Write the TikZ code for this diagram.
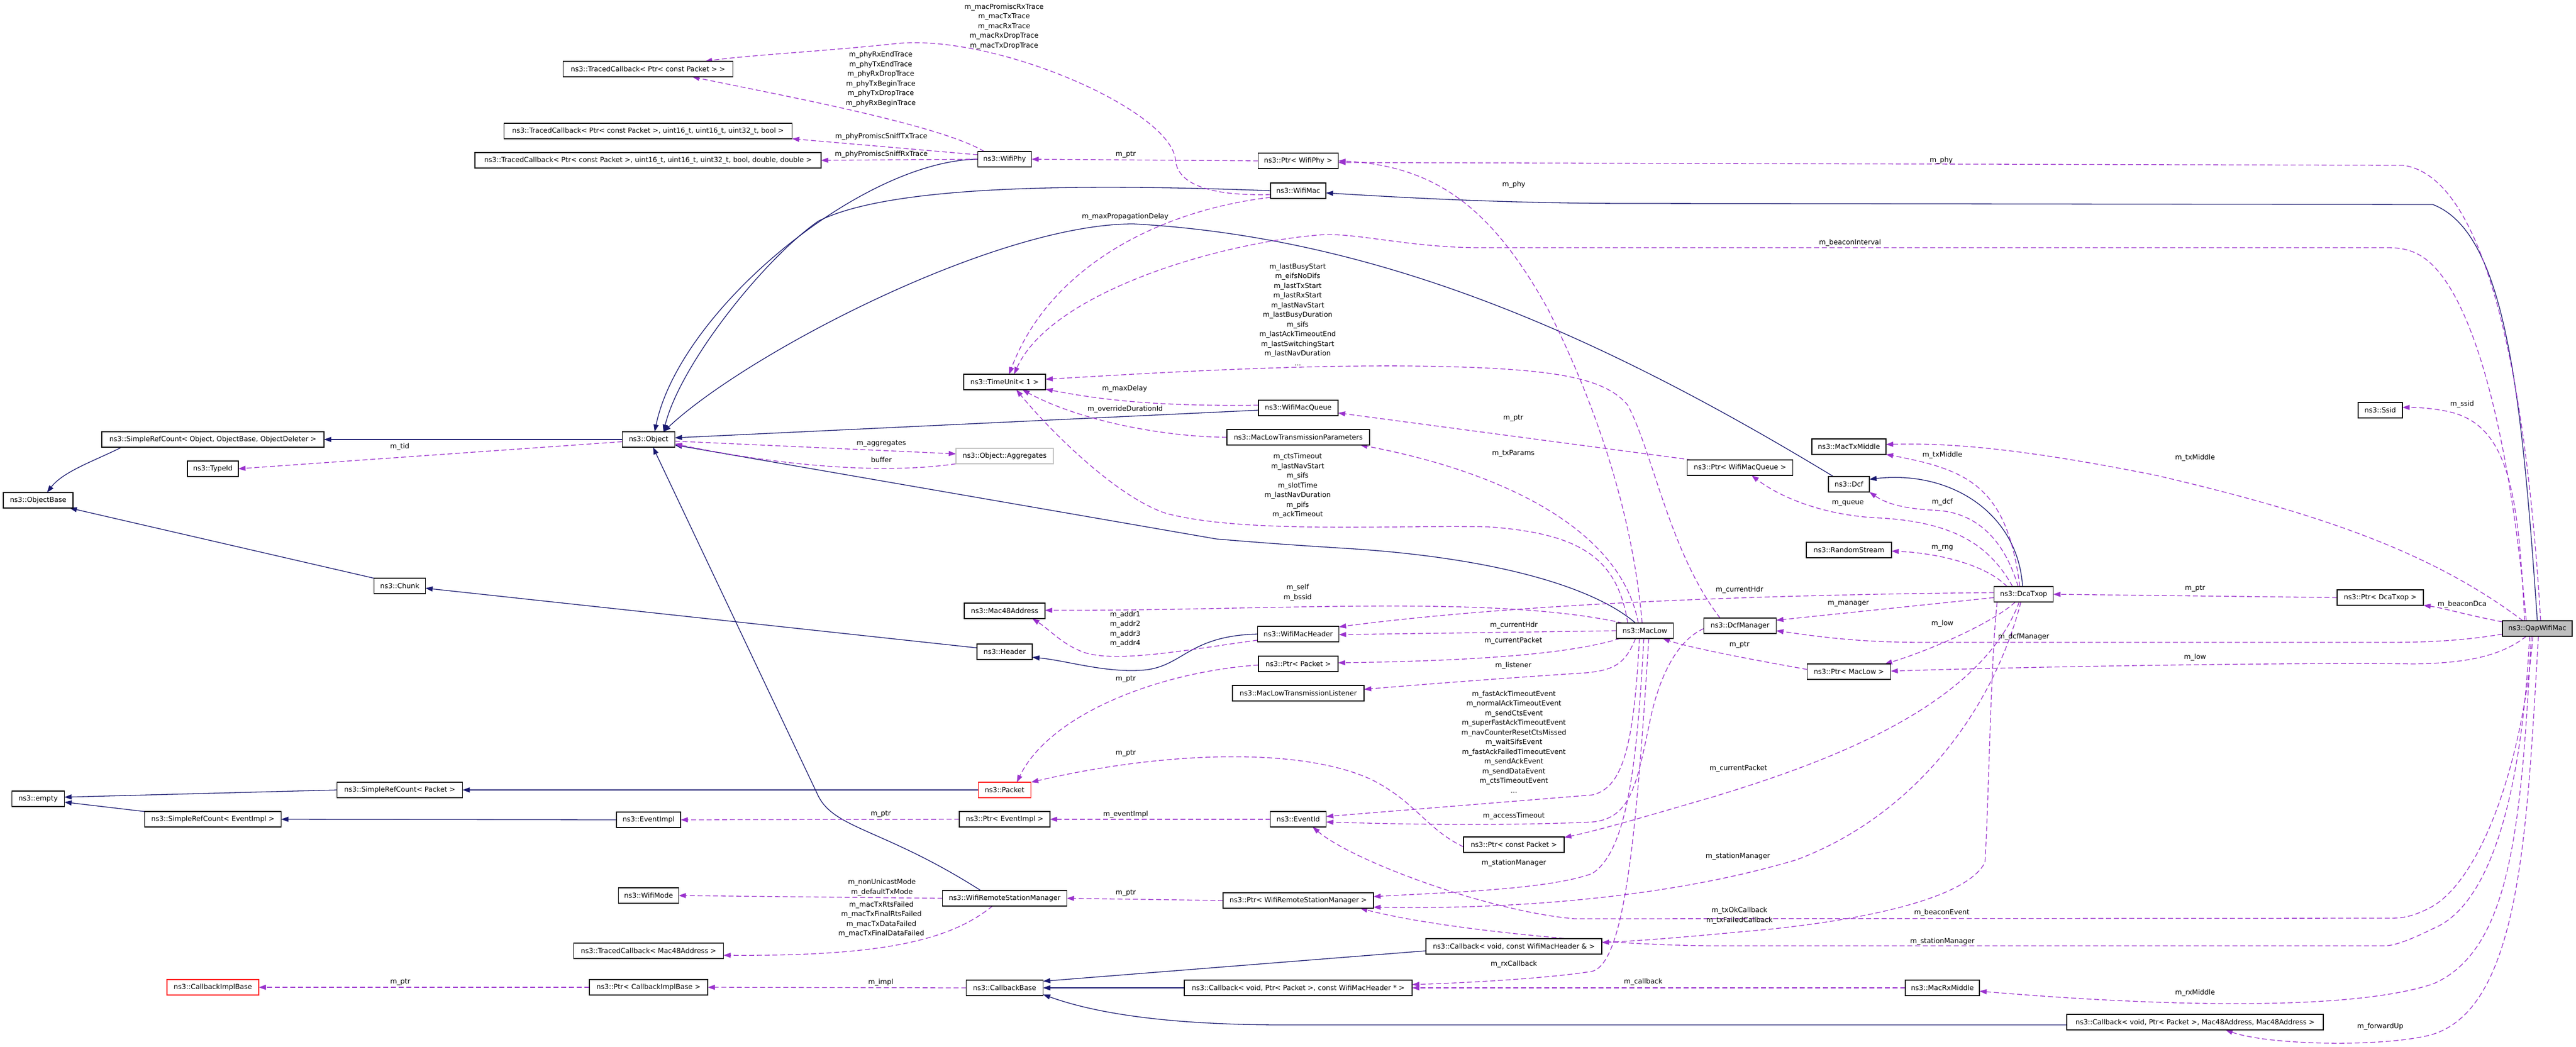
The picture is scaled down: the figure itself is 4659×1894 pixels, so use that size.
\documentclass[tikz,border=0pt]{standalone}
\usepackage{fontspec}
\setmainfont{DejaVu Sans}
\usetikzlibrary{arrows.meta}
\pgfdeclarelayer{bg}
\pgfsetlayers{bg,main}
\definecolor{inhcol}{HTML}{191970}
\definecolor{memcol}{HTML}{9A32CD}
\definecolor{boxgray}{HTML}{BFBFBF}
\tikzset{
    every node/.style={font=\fontsize{12.5}{17.5}\selectfont, inner sep=0pt, outer sep=0pt},
    cls/.style={rectangle, draw=black, line width=1.2pt, minimum height=28pt, fill=white},
    attr/.style={align=center},
    baseedge/.style={draw=inhcol, line width=1.3pt, -{Triangle[length=13pt,width=9pt]}},
    memberedge/.style={draw=memcol, line width=1.3pt, dash pattern=on 9pt off 5pt, -{Triangle[length=13pt,width=9pt]}}
}
\begin{document}
\begin{tikzpicture}[x=1pt, y=-1pt]
    \path[use as bounding box] (0,0) rectangle (4659,1894);

    % classes
    \node (objbase) [cls, minimum width=126pt] at (69, 905) {ns3::ObjectBase};
    \node (empty) [cls, minimum width=95pt] at (69, 1445) {ns3::empty};
    \node (srcobj) [cls, minimum width=402pt] at (385, 795) {ns3::SimpleRefCount< Object, ObjectBase, ObjectDeleter >};
    \node (typeid) [cls, minimum width=92pt] at (385, 848) {ns3::TypeId};
    \node (srcevent) [cls, minimum width=247pt] at (385, 1482) {ns3::SimpleRefCount< EventImpl >};
    \node (cbimplbase) [cls, draw=red, minimum width=166pt] at (385, 1786) {ns3::CallbackImplBase};
    \node (chunk) [cls, minimum width=93pt] at (723, 1060) {ns3::Chunk};
    \node (srcpacket) [cls, minimum width=227pt] at (723, 1429) {ns3::SimpleRefCount< Packet >};
    \node (tcpkt) [cls, minimum width=307pt] at (1172, 125) {ns3::TracedCallback< Ptr< const Packet > >};
    \node (tcsnifftx) [cls, minimum width=521pt] at (1172, 237) {ns3::TracedCallback< Ptr< const Packet >, uint16\_t, uint16\_t, uint32\_t, bool >};
    \node (tcsniffrx) [cls, minimum width=626pt] at (1172, 290) {ns3::TracedCallback< Ptr< const Packet >, uint16\_t, uint16\_t, uint32\_t, bool, double, double >};
    \node (object) [cls, minimum width=95pt] at (1173, 795) {ns3::Object};
    \node (eventimpl) [cls, minimum width=116pt] at (1173, 1483) {ns3::EventImpl};
    \node (wifimode) [cls, minimum width=109pt] at (1173, 1620) {ns3::WifiMode};
    \node (tcmac) [cls, minimum width=271pt] at (1173, 1720) {ns3::TracedCallback< Mac48Address >};
    \node (ptrcbimpl) [cls, minimum width=214pt] at (1173, 1786) {ns3::Ptr< CallbackImplBase >};
    \node (wifiphy) [cls, minimum width=97pt] at (1817, 288) {ns3::WifiPhy};
    \node (timeunit) [cls, minimum width=148pt] at (1817, 691) {ns3::TimeUnit< 1 >};
    \node (aggregates) [cls, draw=boxgray, minimum width=176pt] at (1817, 825) {ns3::Object::Aggregates};
    \node (mac48) [cls, minimum width=146pt] at (1817, 1105) {ns3::Mac48Address};
    \node (header) [cls, minimum width=100pt] at (1817, 1179) {ns3::Header};
    \node (packet) [cls, draw=red, minimum width=95pt] at (1817, 1429) {ns3::Packet};
    \node (ptreventimpl) [cls, minimum width=164pt] at (1817, 1482) {ns3::Ptr< EventImpl >};
    \node (wrsm) [cls, minimum width=225pt] at (1817, 1625) {ns3::WifiRemoteStationManager};
    \node (cbbase) [cls, minimum width=139pt] at (1817, 1787) {ns3::CallbackBase};
    \node (ptrwifiphy) [cls, minimum width=145pt] at (2348, 291) {ns3::Ptr< WifiPhy >};
    \node (wifimac) [cls, minimum width=100pt] at (2348, 345) {ns3::WifiMac};
    \node (wifimacqueue) [cls, minimum width=144pt] at (2348, 738) {ns3::WifiMacQueue};
    \node (mltp) [cls, minimum width=258pt] at (2348, 791) {ns3::MacLowTransmissionParameters};
    \node (wifimacheader) [cls, minimum width=147pt] at (2348, 1147) {ns3::WifiMacHeader};
    \node (ptrpacket) [cls, minimum width=144pt] at (2348, 1201) {ns3::Ptr< Packet >};
    \node (mltl) [cls, minimum width=238pt] at (2348, 1254) {ns3::MacLowTransmissionListener};
    \node (eventid) [cls, minimum width=101pt] at (2348, 1482) {ns3::EventId};
    \node (ptrwrsm) [cls, minimum width=272pt] at (2348, 1629) {ns3::Ptr< WifiRemoteStationManager >};
    \node (cbrx) [cls, minimum width=412pt] at (2348, 1787) {ns3::Callback< void, Ptr< Packet >, const WifiMacHeader * >};
    \node (ptrcpacket) [cls, minimum width=182pt] at (2738, 1528) {ns3::Ptr< const Packet >};
    \node (cbtx) [cls, minimum width=318pt] at (2738, 1712) {ns3::Callback< void, const WifiMacHeader \& >};
    \node (maclow) [cls, minimum width=103pt] at (2975, 1141) {ns3::MacLow};
    \node (ptrqueue) [cls, minimum width=191pt] at (3147, 846) {ns3::Ptr< WifiMacQueue >};
    \node (dcfmanager) [cls, minimum width=131pt] at (3147, 1132) {ns3::DcfManager};
    \node (mactxmiddle) [cls, minimum width=134pt] at (3344, 808) {ns3::MacTxMiddle};
    \node (dcf) [cls, minimum width=74pt] at (3344, 876) {ns3::Dcf};
    \node (randomstream) [cls, minimum width=154pt] at (3344, 995) {ns3::RandomStream};
    \node (ptrmaclow) [cls, minimum width=151pt] at (3344, 1215) {ns3::Ptr< MacLow >};
    \node (macrxmiddle) [cls, minimum width=134pt] at (3513, 1787) {ns3::MacRxMiddle};
    \node (dcatxop) [cls, minimum width=107pt] at (3660, 1075) {ns3::DcaTxop};
    \node (cbfwd) [cls, minimum width=464pt] at (3970, 1849) {ns3::Callback< void, Ptr< Packet >, Mac48Address, Mac48Address >};
    \node (ssid) [cls, minimum width=80pt] at (4305, 742) {ns3::Ssid};
    \node (ptrdcatxop) [cls, minimum width=156pt] at (4305, 1081) {ns3::Ptr< DcaTxop >};
    \node (qap) [cls, fill=boxgray, minimum width=126pt] at (4589, 1137) {ns3::QapWifiMac};

    % member names
    \node (lmacprom) [attr] at (1816, 48) {m\_macPromiscRxTrace\\m\_macTxTrace\\m\_macRxTrace\\m\_macRxDropTrace\\m\_macTxDropTrace};
    \node (lphytrace) [attr] at (1593, 143) {m\_phyRxEndTrace\\m\_phyTxEndTrace\\m\_phyRxDropTrace\\m\_phyTxBeginTrace\\m\_phyTxDropTrace\\m\_phyRxBeginTrace};
    \node (lsnifftx) [attr] at (1594, 247) {m\_phyPromiscSniffTxTrace};
    \node (lsniffrx) [attr] at (1594, 279) {m\_phyPromiscSniffRxTrace};
    \node (lptrphy) [attr] at (2036, 280) {m\_ptr};
    \node (lphyqap) [attr] at (3511, 290) {m\_phy};
    \node (lphylow) [attr] at (2738, 334) {m\_phy};
    \node (lpropdelay) [attr] at (2035, 392) {m\_maxPropagationDelay};
    \node (lbeaconint) [attr] at (3346, 439) {m\_beaconInterval};
    \node (llastbusy) [attr] at (2347, 569) {m\_lastBusyStart\\m\_eifsNoDifs\\m\_lastTxStart\\m\_lastRxStart\\m\_lastNavStart\\m\_lastBusyDuration\\m\_sifs\\m\_lastAckTimeoutEnd\\m\_lastSwitchingStart\\m\_lastNavDuration\\...};
    \node (lmaxdelay) [attr] at (2034, 703) {m\_maxDelay};
    \node (loverride) [attr] at (2035, 740) {m\_overrideDurationId};
    \node (lssid) [attr] at (4453, 731) {m\_ssid};
    \node (lptrqueue) [attr] at (2737, 757) {m\_ptr};
    \node (laggr) [attr] at (1594, 803) {m\_aggregates};
    \node (ltid) [attr] at (723, 808) {m\_tid};
    \node (ltxparams) [attr] at (2737, 820) {m\_txParams};
    \node (ltxmidnear) [attr] at (3513, 823) {m\_txMiddle};
    \node (ltxmidfar) [attr] at (3970, 828) {m\_txMiddle};
    \node (lctstimeout) [attr] at (2347, 879) {m\_ctsTimeout\\m\_lastNavStart\\m\_sifs\\m\_slotTime\\m\_lastNavDuration\\m\_pifs\\m\_ackTimeout};
    \node (lbuffer) [attr] at (1594, 832) {buffer};
    \node (ldcf) [attr] at (3513, 908) {m\_dcf};
    \node (lqueue) [attr] at (3342, 910) {m\_queue};
    \node (lrng) [attr] at (3513, 991) {m\_rng};
    \node (lself) [attr] at (2347, 1072) {m\_self\\m\_bssid};
    \node (lptrdca) [attr] at (3970, 1065) {m\_ptr};
    \node (lhdrdca) [attr] at (3146, 1067) {m\_currentHdr};
    \node (lmanager) [attr] at (3343, 1092) {m\_manager};
    \node (lbeacondca) [attr] at (4453, 1093) {m\_beaconDca};
    \node (laddr) [attr] at (2035, 1138) {m\_addr1\\m\_addr2\\m\_addr3\\m\_addr4};
    \node (llownear) [attr] at (3513, 1128) {m\_low};
    \node (lhdrlow) [attr] at (2738, 1131) {m\_currentHdr};
    \node (ldcfmgr) [attr] at (3660, 1152) {m\_dcfManager};
    \node (lpktlow) [attr] at (2737, 1159) {m\_currentPacket};
    \node (lptrlow) [attr] at (3146, 1167) {m\_ptr};
    \node (llowfar) [attr] at (3970, 1189) {m\_low};
    \node (llistener) [attr] at (2737, 1204) {m\_listener};
    \node (lptrpkt) [attr] at (2036, 1229) {m\_ptr};
    \node (levents) [attr] at (2738, 1342) {m\_fastAckTimeoutEvent\\m\_normalAckTimeoutEvent\\m\_sendCtsEvent\\m\_superFastAckTimeoutEvent\\m\_navCounterResetCtsMissed\\m\_waitSifsEvent\\m\_fastAckFailedTimeoutEvent\\m\_sendAckEvent\\m\_sendDataEvent\\m\_ctsTimeoutEvent\\...};
    \node (lptrcpkt) [attr] at (2036, 1363) {m\_ptr};
    \node (lpktdca) [attr] at (3144, 1390) {m\_currentPacket};
    \node (lptrevimpl) [attr] at (1593, 1473) {m\_ptr};
    \node (leventimpl) [attr] at (2036, 1473) {m\_eventImpl};
    \node (laccess) [attr] at (2738, 1476) {m\_accessTimeout};
    \node (lstadca) [attr] at (3143, 1549) {m\_stationManager};
    \node (lstalow) [attr] at (2738, 1561) {m\_stationManager};
    \node (lmode) [attr] at (1595, 1605) {m\_nonUnicastMode\\m\_defaultTxMode};
    \node (lfailed) [attr] at (1594, 1663) {m\_macTxRtsFailed\\m\_macTxFinalRtsFailed\\m\_macTxDataFailed\\m\_macTxFinalDataFailed};
    \node (lptrwrsm) [attr] at (2036, 1616) {m\_ptr};
    \node (ltxok) [attr] at (3146, 1656) {m\_txOkCallback\\m\_txFailedCallback};
    \node (lbeaconev) [attr] at (3512, 1651) {m\_beaconEvent};
    \node (lstaqap) [attr] at (3513, 1703) {m\_stationManager};
    \node (lrxcb) [attr] at (2738, 1744) {m\_rxCallback};
    \node (lcallback) [attr] at (2972, 1776) {m\_callback};
    \node (lptrcbimpl) [attr] at (724, 1777) {m\_ptr};
    \node (limpl) [attr] at (1593, 1777) {m\_impl};
    \node (lrxmiddle) [attr] at (3970, 1796) {m\_rxMiddle};
    \node (lforward) [attr] at (4305, 1857) {m\_forwardUp};

    \begin{pgfonlayer}{bg}
        \fill[white] (0,0) rectangle (4659,1894);

        % base classes
        \draw[baseedge] ([xshift=36pt]srcobj.south west) .. controls (175,832) and (115,852) .. ([xshift=16pt]objbase.north);
        \draw[baseedge] (chunk.north west) -- ([xshift=-6pt]objbase.south east);
        \draw[baseedge] (object.west) -- (srcobj.east);
        \draw[baseedge] ([yshift=7pt]header.west) -- ([yshift=-4pt]chunk.east);
        \draw[baseedge] (wifimacheader.west) .. controls (2150,1150) and (2140,1205) .. (2070,1212) .. controls (2000,1218) and (1930,1195) .. ([yshift=-10pt]header.east);
        \draw[baseedge] (packet.west) -- (srcpacket.east);
        \draw[baseedge] (srcpacket.west) -- ([yshift=3pt]empty.east);
        \draw[baseedge] (srcevent.north west) -- ([yshift=-6pt]empty.east);
        \draw[baseedge] (eventimpl.west) -- (srcevent.east);
        \draw[baseedge] (wifiphy.west) .. controls (1560,290) and (1230,560) .. ([xshift=11pt]object.north);
        \draw[baseedge] (wifimac.west) .. controls (1900,330) and (1600,340) .. (1480,400) .. controls (1380,470) and (1230,660) .. ([xshift=27pt]object.north);
        \draw[baseedge] ([yshift=-4pt]wifimacqueue.west) -- ([yshift=3pt]object.east);
        \draw[baseedge] ([xshift=-28pt]dcf.north) .. controls (2900,610) and (2500,430) .. (2050,405) .. controls (1800,405) and (1350,640) .. ([xshift=27pt]object.north);
        \draw[baseedge] ([xshift=-17pt]maclow.north) .. controls (2880,1060) and (2700,1010) .. (2450,993) .. controls (2320,985) and (2260,980) .. (2200,975) -- ([yshift=-10pt]object.east);
        \draw[baseedge] ([xshift=-43pt]wrsm.north) .. controls (1600,1500) and (1510,1500) .. (1480,1440) -- ([xshift=8pt]object.south);
        \draw[baseedge] ([xshift=-2pt]dcatxop.north) .. controls (3650,930) and (3530,850) .. ([yshift=9pt]dcf.east);
        \draw[baseedge] (qap.north) .. controls (4560,700) and (4530,420) .. (4400,370) -- (2950,368) .. controls (2700,368) and (2500,355) .. ([yshift=-4pt]wifimac.east);
        \draw[baseedge] ([yshift=-8pt]cbtx.west) -- ([yshift=12pt]cbbase.east);
        \draw[baseedge] (cbrx.west) -- (cbbase.east);
        \draw[baseedge] ([yshift=-5pt]cbfwd.west) -- (2322,1854) .. controls (2150,1854) and (2000,1840) .. ([yshift=-12pt]cbbase.east);

        % members
        \draw[memberedge] ([xshift=-37pt]wifiphy.north) .. controls (1700,225) and (1400,170) .. ([xshift=80pt]tcpkt.south);
        \draw[memberedge] ([yshift=-7pt]wifimac.west) .. controls (2180,355) and (2130,330) .. (2126,290) .. controls (2120,200) and (1800,60) .. (1619,79) .. controls (1500,92) and (1350,100) .. ([xshift=103pt]tcpkt.north);
        \draw[memberedge] ([yshift=8pt]wifiphy.west) -- (tcsnifftx.south east);
        \draw[memberedge] (wifiphy.west) -- (tcsniffrx.east);
        \draw[memberedge] (ptrwifiphy.west) -- (wifiphy.east);
        \draw[memberedge] ([xshift=6pt]qap.north) .. controls (4570,700) and (4500,320) .. (4346,299) -- ([yshift=-3pt]ptrwifiphy.east);
        \draw[memberedge] ([xshift=-5pt]maclow.north) .. controls (2950,900) and (2870,700) .. (2800,560) .. controls (2700,380) and (2600,300) .. (ptrwifiphy.east);
        \draw[memberedge] ([yshift=-12pt]wifimac.west) .. controls (2100,380) and (1900,480) .. ([xshift=8pt]timeunit.north);
        \draw[memberedge] ([xshift=-20pt]qap.north) .. controls (4540,800) and (4480,560) .. (4400,480) .. controls (4370,450) and (4340,448) .. (4316,448) -- (2674,448) .. controls (2550,448) and (2450,420) .. (2387,425) .. controls (2200,440) and (1900,530) .. ([xshift=17pt]timeunit.north);
        \draw[memberedge] ([xshift=-36pt]dcfmanager.north) .. controls (3020,1000) and (2990,820) .. (2944,733) .. controls (2900,680) and (2800,665) .. (2547,662) .. controls (2300,660) and (2000,680) .. ([yshift=5pt]timeunit.east);
        \draw[memberedge] ([yshift=5pt]wifimacqueue.west) .. controls (2100,735) and (2000,725) .. ([yshift=-13pt]timeunit.east);
        \draw[memberedge] (mltp.west) .. controls (2100,790) and (1950,760) .. ([xshift=32pt]timeunit.south);
        \draw[memberedge] ([xshift=-31pt]maclow.north) .. controls (2925,1010) and (2860,965) .. (2691,953) .. controls (2500,950) and (2250,965) .. (2110,929) .. controls (2020,900) and (1900,780) .. ([xshift=21pt]timeunit.south);
        \draw[memberedge] ([yshift=-3pt]object.east) -- ([yshift=4pt]aggregates.west);
        \draw[memberedge] (aggregates.south west) .. controls (1620,855) and (1450,850) .. ([yshift=-8pt]object.east);
        \draw[memberedge] ([yshift=-4pt]object.west) -- (typeid.east);
        \draw[memberedge] ([xshift=-87pt]ptrqueue.north) -- ([yshift=-9pt]wifimacqueue.east);
        \draw[memberedge] ([xshift=-20pt]dcatxop.north) .. controls (3600,990) and (3540,945) .. (3400,937) .. controls (3300,933) and (3220,900) .. ([xshift=21pt]ptrqueue.south);
        \draw[memberedge] ([xshift=-12pt]maclow.north) .. controls (2930,950) and (2700,850) .. ([xshift=112pt]mltp.south);
        \draw[memberedge] ([xshift=-7pt]dcatxop.north) .. controls (3630,880) and (3560,850) .. (mactxmiddle.south east);
        \draw[memberedge] ([xshift=-26pt]qap.north) .. controls (4400,1000) and (4200,930) .. (3900,860) .. controls (3700,820) and (3550,800) .. ([yshift=4pt]mactxmiddle.east);
        \draw[memberedge] ([xshift=-10pt]dcatxop.north) .. controls (3620,960) and (3560,925) .. (3498,923) .. controls (3440,920) and (3410,910) .. (dcf.south east);
        \draw[memberedge] ([xshift=-30pt]dcatxop.north) .. controls (3590,1020) and (3500,1000) .. ([yshift=-2pt]randomstream.east);
        \draw[memberedge] ([yshift=-6pt]dcatxop.west) -- ([yshift=10pt]dcfmanager.east);
        \draw[memberedge] ([yshift=-10pt]qap.west) .. controls (4450,1160) and (4380,1162) .. (4317,1162) -- (3479,1162) .. controls (3350,1162) and (3280,1150) .. ([yshift=-9pt]dcfmanager.east);
        \draw[memberedge] ([yshift=3pt]dcatxop.west) .. controls (3300,1075) and (2800,1085) .. ([yshift=13pt]wifimacheader.east);
        \draw[memberedge] (maclow.west) -- ([yshift=-1pt]wifimacheader.east);
        \draw[memberedge] ([xshift=-45pt]maclow.south) .. controls (2850,1180) and (2700,1195) .. ([yshift=2pt]ptrpacket.east);
        \draw[memberedge] ([xshift=-17pt]maclow.south) .. controls (2940,1200) and (2920,1212) .. (2870,1217) .. controls (2700,1228) and (2550,1240) .. ([yshift=7pt]mltl.east);
        \draw[memberedge] ([xshift=-40pt]maclow.north) .. controls (2700,1075) and (2300,1105) .. ([yshift=1pt]mac48.east);
        \draw[memberedge] ([yshift=-11pt]wifimacheader.west) .. controls (2150,1175) and (2020,1200) .. (1960,1180) .. controls (1920,1165) and (1900,1140) .. ([xshift=50pt]mac48.south);
        \draw[memberedge] ([yshift=-2pt]ptrpacket.west) .. controls (2100,1215) and (1900,1290) .. ([xshift=22pt]packet.north);
        \draw[memberedge] ([yshift=-4pt]ptrcpacket.west) .. controls (2580,1500) and (2560,1450) .. (2480,1410) .. controls (2350,1350) and (2100,1360) .. ([xshift=48pt]packet.north);
        \draw[memberedge] (ptreventimpl.west) -- (eventimpl.east);
        \draw[memberedge] (eventid.west) -- (ptreventimpl.east);
        \draw[memberedge] ([xshift=-10pt]maclow.south) .. controls (2955,1350) and (2935,1425) .. (2880,1438) -- ([yshift=5pt]eventid.east);
        \draw[memberedge] ([yshift=-5pt]dcfmanager.west) .. controls (3030,1160) and (3000,1230) .. (2985,1300) .. controls (2960,1420) and (2950,1480) .. (2880,1487) .. controls (2700,1495) and (2500,1490) .. ([yshift=-5pt]eventid.east);
        \draw[memberedge] ([xshift=-8pt]qap.south) .. controls (4560,1400) and (4480,1600) .. (4393,1643) .. controls (4360,1660) and (4340,1661) .. (4323,1661) -- (2848,1662) .. controls (2700,1650) and (2450,1560) .. ([xshift=26pt]eventid.south);
        \draw[memberedge] ([xshift=-8pt]dcatxop.south) .. controls (3580,1280) and (3300,1380) .. (3100,1441) .. controls (3000,1470) and (2900,1500) .. ([yshift=13pt]ptrcpacket.east);
        \draw[memberedge] ([xshift=-2pt]maclow.south) .. controls (2960,1400) and (2940,1540) .. (2880,1580) .. controls (2800,1610) and (2600,1615) .. ([yshift=7pt]ptrwrsm.east);
        \draw[memberedge] ([xshift=-5pt]dcatxop.south) .. controls (3600,1300) and (3450,1480) .. (3250,1555) .. controls (3000,1630) and (2700,1645) .. ([yshift=-12pt]ptrwrsm.east);
        \draw[memberedge] ([xshift=-14pt]qap.south) .. controls (4560,1450) and (4500,1640) .. (4400,1680) .. controls (4360,1700) and (4330,1711) .. (4313,1711) -- (3100,1711) .. controls (2900,1710) and (2600,1680) .. ([xshift=112pt]ptrwrsm.south);
        \draw[memberedge] ([xshift=-48pt]dcatxop.south) .. controls (3600,1200) and (3597,1450) .. (3590,1560) .. controls (3560,1620) and (3400,1660) .. (3200,1681) .. controls (3100,1690) and (3000,1700) .. ([yshift=7pt]cbtx.east);
        \draw[memberedge] ([xshift=7pt]maclow.south) .. controls (2960,1500) and (2940,1740) .. (2880,1757) .. controls (2800,1770) and (2650,1778) .. ([yshift=6pt]cbrx.east);
        \draw[memberedge] (macrxmiddle.west) -- (cbrx.east);
        \draw[memberedge] ([xshift=-11pt]qap.south) .. controls (4560,1500) and (4540,1720) .. (4400,1780) .. controls (4250,1830) and (3900,1820) .. ([yshift=-6pt]macrxmiddle.east);
        \draw[memberedge] ([xshift=2pt]qap.south) .. controls (4570,1500) and (4560,1830) .. (4393,1873) .. controls (4300,1895) and (4100,1890) .. ([xshift=55pt]cbfwd.south);
        \draw[memberedge] ([xshift=-23pt]qap.north) .. controls (4555,900) and (4540,770) .. (4430,745) .. controls (4400,738) and (4370,737) .. ([yshift=5pt]ssid.east);
        \draw[memberedge] ([yshift=12pt]qap.west) .. controls (4450,1110) and (4420,1100) .. (ptrdcatxop.south east);
        \draw[memberedge] (ptrdcatxop.west) -- (dcatxop.east);
        \draw[memberedge] ([xshift=-20pt]qap.south) .. controls (4520,1190) and (4450,1200) .. (4363,1201) .. controls (4200,1198) and (3700,1205) .. ([yshift=1pt]ptrmaclow.east);
        \draw[memberedge] ([xshift=-15pt]dcatxop.south) .. controls (3600,1130) and (3480,1180) .. ([xshift=65pt]ptrmaclow.north);
        \draw[memberedge] ([yshift=4pt]ptrmaclow.west) .. controls (3150,1190) and (3050,1170) .. ([xshift=32pt]maclow.south);
        \draw[memberedge] (wrsm.west) -- (wifimode.east);
        \draw[memberedge] ([xshift=-22pt]wrsm.south) .. controls (1720,1700) and (1600,1730) .. ([yshift=-8pt]tcmac.east);
        \draw[memberedge] (ptrwrsm.west) -- (wrsm.east);
        \draw[memberedge] (cbbase.west) -- (ptrcbimpl.east);
        \draw[memberedge] (ptrcbimpl.west) -- (cbimplbase.east);
    \end{pgfonlayer}
\end{tikzpicture}
\end{document}
